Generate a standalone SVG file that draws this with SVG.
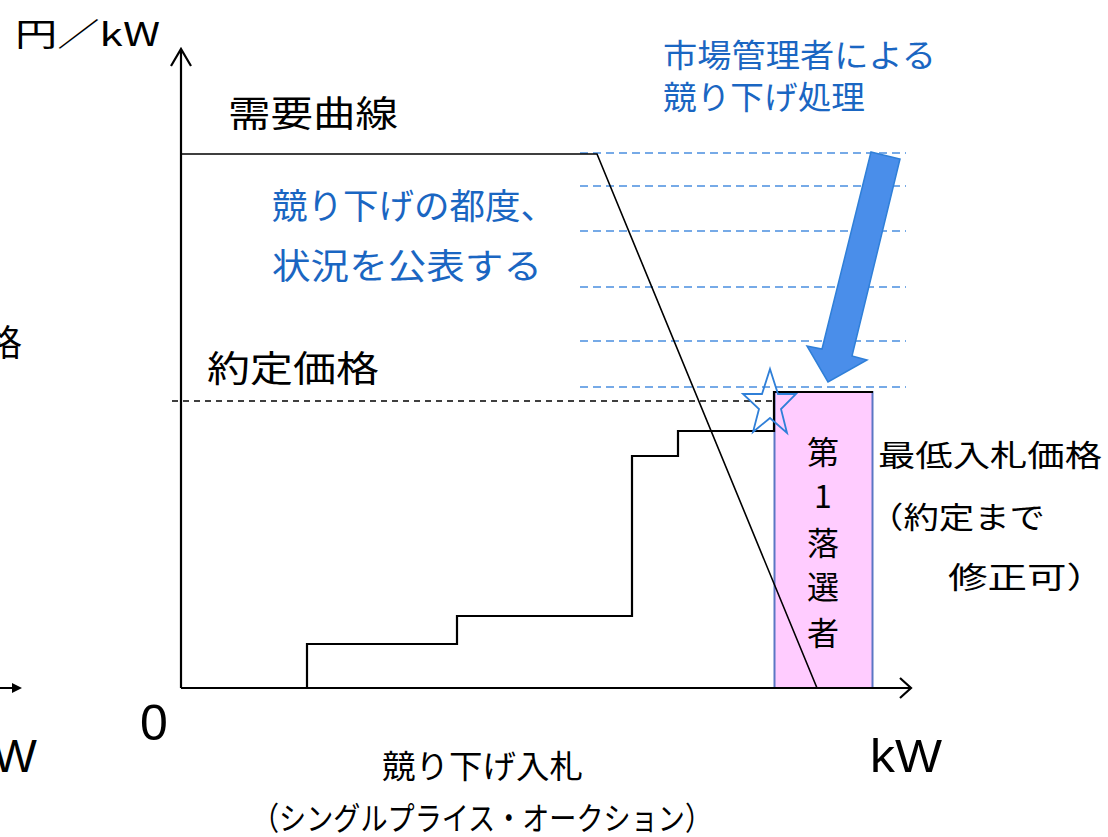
<svg xmlns="http://www.w3.org/2000/svg" width="1108" height="837" viewBox="0 0 1108 837">
<style>
text{font-family:"Noto Sans CJK JP","Noto Sans",sans-serif;fill:#000}
.blue{fill:#1a66c2}
.lat{font-family:"Liberation Sans",Arial,sans-serif}
.axis{stroke:#000;stroke-width:2.2;fill:none}
.bdash{stroke:#4a8fe0;stroke-width:1.6;stroke-dasharray:8 5;fill:none}
</style>
<rect width="1108" height="837" fill="#fff"/>
<g id="left-partial">
<text x="-14" y="356" font-size="36">格</text>
<text class="lat" x="-31" y="772" font-size="47">kW</text>
<path d="M0,688 H20" stroke="#000" stroke-width="2"/>
<path d="M12,683 L22,688 L12,693 Z" fill="#000"/>
</g>
<g id="guides">
<path class="bdash" d="M580,153 H906 M580,186 H906 M580,231 H906 M580,287 H906 M580,341 H906 M580,387 H906"/>
<path d="M172,401 H822" stroke="#000" stroke-width="1.4" stroke-dasharray="6 5" fill="none"/>
</g>
<g id="winner-box">
<rect x="774.5" y="392" width="98" height="296" fill="#ffccff" stroke="#5b76c4" stroke-width="2"/>
<text x="823" y="464" font-size="32" text-anchor="middle">第</text>
<text x="823" y="508" font-size="32" text-anchor="middle">1</text>
<text x="823" y="555" font-size="32" text-anchor="middle">落</text>
<text x="823" y="599" font-size="32" text-anchor="middle">選</text>
<text x="823" y="645" font-size="32" text-anchor="middle">者</text>
</g>
<g id="axes">
<path class="axis" d="M181,688 V49 M171,66 L181,49 L191,66"/>
<path class="axis" d="M181,688 H911 M900,678 L911,688 L900,698"/>
</g>
<g id="connectors">
<path id="demand-curve" d="M181,154 H597 L817,688" stroke="#000" stroke-width="1.6" fill="none"/>
<path id="supply-steps" d="M307,688 V644 H457 V616 H632 V456 H678 V431 H774 V392 H873" stroke="#000" stroke-width="2.2" fill="none"/>
<path id="price-arrow" d="M871,152 L900,159 L852,356 L867,360 L828,382 L807,346 L822,349 Z" fill="#4a8eea" stroke="#2f7fd8" stroke-width="1.5"/>
<path id="star" d="M770,369 L778,394 L796,394 L781,409 L787,433 L770,418 L753,432 L759,409 L743,394 L762,394 Z" fill="none" stroke="#2f7fd8" stroke-width="1.8"/>
</g>
<g id="labels">
<text x="15" y="46" font-size="32" textLength="145" lengthAdjust="spacingAndGlyphs">円／kW</text>
<text x="228" y="127" font-size="36" textLength="170" lengthAdjust="spacingAndGlyphs">需要曲線</text>
<text class="blue" x="663" y="67" font-size="32" textLength="273" lengthAdjust="spacingAndGlyphs">市場管理者による</text>
<text class="blue" x="663" y="109" font-size="32" textLength="202" lengthAdjust="spacingAndGlyphs">競り下げ処理</text>
<text class="blue" x="272" y="219" font-size="35" textLength="284" lengthAdjust="spacingAndGlyphs">競り下げの都度、</text>
<text class="blue" x="272" y="279" font-size="35" textLength="270" lengthAdjust="spacingAndGlyphs">状況を公表する</text>
<text x="207" y="382" font-size="36" textLength="172" lengthAdjust="spacingAndGlyphs">約定価格</text>
<text x="878" y="466" font-size="30" textLength="224" lengthAdjust="spacingAndGlyphs">最低入札価格</text>
<text x="868" y="528" font-size="30" textLength="177" lengthAdjust="spacingAndGlyphs">（約定まで</text>
<text x="948" y="588" font-size="30" textLength="158" lengthAdjust="spacingAndGlyphs">修正可）</text>
<text class="lat" x="140" y="740" font-size="50">0</text>
<text class="lat" x="870" y="772" font-size="47" textLength="72" lengthAdjust="spacingAndGlyphs">kW</text>
<text x="382" y="778" font-size="32" textLength="201" lengthAdjust="spacingAndGlyphs">競り下げ入札</text>
<text x="252" y="830" font-size="32" textLength="460" lengthAdjust="spacingAndGlyphs">（シングルプライス・オークション）</text>
</g>
</svg>
